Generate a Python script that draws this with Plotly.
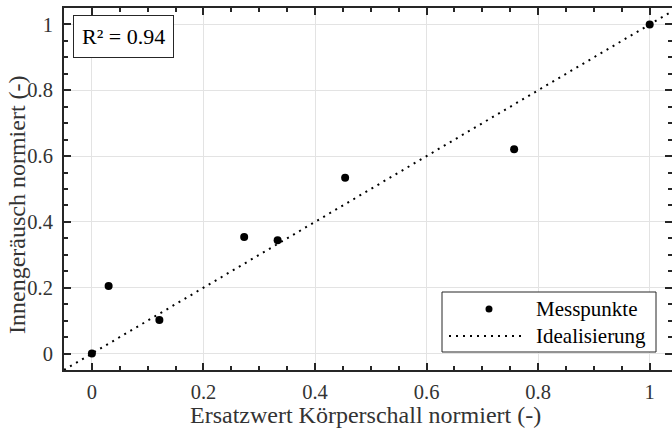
import plotly.graph_objects as go

# Data
mess_x = [0.0, 0.030, 0.121, 0.273, 0.333, 0.454, 0.757, 1.0]
mess_y = [0.0, 0.205, 0.102, 0.354, 0.344, 0.534, 0.621, 1.0]
ideal_x = [-0.05, 1.05]
ideal_y = [-0.05, 1.05]
r2_text = "R² = 0.94"
legend_labels = ["Messpunkte", "Idealisierung"]
x_title = "Ersatzwert Körperschall normiert (-)"
y_title = "Innengeräusch normiert (-)"
tick_vals = [0, 0.2, 0.4, 0.6, 0.8, 1.0]
tick_text = ["0", "0.2", "0.4", "0.6", "0.8", "1"]

FONT = "Liberation Serif"
TXT = "#333333"
AX = "#262626"
GRID = "#e3e3e3"
FS_TICK = 20.5
FS_TITLE = 24
FS_R2 = 22
FS_LEG = 21

fig = go.Figure()
fig.add_trace(go.Scatter(x=ideal_x, y=ideal_y, mode="lines",
                         line=dict(color="black", width=2, dash="2px,5px"),
                         showlegend=False, hoverinfo="skip"))
fig.add_trace(go.Scatter(x=mess_x, y=mess_y, mode="markers",
                         marker=dict(color="black", size=8),
                         showlegend=False, cliponaxis=False))
# empty trace so the right-hand tick axis is drawn
fig.add_trace(go.Scatter(x=[None], y=[None], yaxis="y2", showlegend=False,
                         hoverinfo="skip"))

minor = dict(dtick=0.05, tick0=0, ticks="inside", ticklen=4, tickcolor=AX,
             tickwidth=1.5, showgrid=False)
tickfont = dict(family=FONT, size=FS_TICK, color=TXT)

fig.update_layout(
    width=672, height=429,
    margin=dict(l=64, r=0, t=8, b=59),
    paper_bgcolor="white", plot_bgcolor="white",
    font=dict(family=FONT, size=FS_TICK, color=TXT),
    xaxis=dict(range=[-0.05, 1.04],
               showline=True, linecolor=AX, linewidth=2, mirror="ticks",
               ticks="inside", ticklen=7, tickwidth=1.5, tickcolor=AX,
               showgrid=True, gridcolor=GRID, gridwidth=1, zeroline=False,
               tickvals=tick_vals, ticktext=tick_text, tickfont=tickfont,
               minor=minor, ticklabelstandoff=2),
    yaxis=dict(range=[-0.05, 1.05],
               showline=True, linecolor=AX, linewidth=2, mirror=False,
               ticks="inside", ticklen=7, tickwidth=1.5, tickcolor=AX,
               showgrid=True, gridcolor=GRID, gridwidth=1, zeroline=False,
               tickvals=tick_vals, ticktext=tick_text, tickfont=tickfont,
               minor=minor, ticklabelstandoff=5),
    yaxis2=dict(range=[-0.05, 1.05], overlaying="y", side="right",
                showline=False, showgrid=False, zeroline=False,
                ticks="inside", ticklen=7, tickwidth=1.5, tickcolor=AX,
                tickvals=tick_vals, showticklabels=False, minor=minor),
)

def px_x(p):
    return (p - 64) / 608

def px_y(p):
    return (370 - p) / 362

# Axis titles
fig.add_annotation(xref="paper", yref="paper", x=px_x(365), y=px_y(415),
                   xanchor="center", yanchor="middle", text=x_title, showarrow=False,
                   font=dict(family=FONT, size=FS_TITLE, color=TXT))
fig.add_annotation(xref="paper", yref="paper", x=px_x(17), y=px_y(205),
                   xanchor="center", yanchor="middle", text=y_title, showarrow=False,
                   textangle=-90, font=dict(family=FONT, size=FS_TITLE, color=TXT))

# R² annotation box
fig.add_annotation(xref="paper", yref="paper", x=px_x(123), y=px_y(36.5),
                   xanchor="center", yanchor="middle",
                   text=r2_text, showarrow=False,
                   font=dict(family=FONT, size=FS_R2, color="black"),
                   bordercolor=AX, borderwidth=1, borderpad=8, bgcolor="white")

# Custom legend
fig.add_shape(type="rect", xref="paper", yref="paper",
              x0=px_x(442), x1=px_x(656), y0=px_y(352), y1=px_y(292),
              line=dict(color=AX, width=1), fillcolor="white", layer="above")
fig.add_shape(type="circle", xref="paper", yref="paper",
              xsizemode="pixel", ysizemode="pixel",
              xanchor=px_x(489), yanchor=px_y(309),
              x0=-3.5, x1=3.5, y0=-3.5, y1=3.5,
              line=dict(color="black", width=0), fillcolor="black", layer="above")
fig.add_shape(type="line", xref="paper", yref="paper",
              x0=px_x(449), x1=px_x(524), y0=px_y(336), y1=px_y(336),
              line=dict(color="black", width=2, dash="2px,5px"), layer="above")
for lbl, py in zip(legend_labels, [309, 336]):
    fig.add_annotation(xref="paper", yref="paper", x=px_x(534), y=px_y(py),
                       xanchor="left", yanchor="middle", text=lbl, showarrow=False,
                       font=dict(family=FONT, size=FS_LEG, color="black"))

fig.write_html("out.html")
